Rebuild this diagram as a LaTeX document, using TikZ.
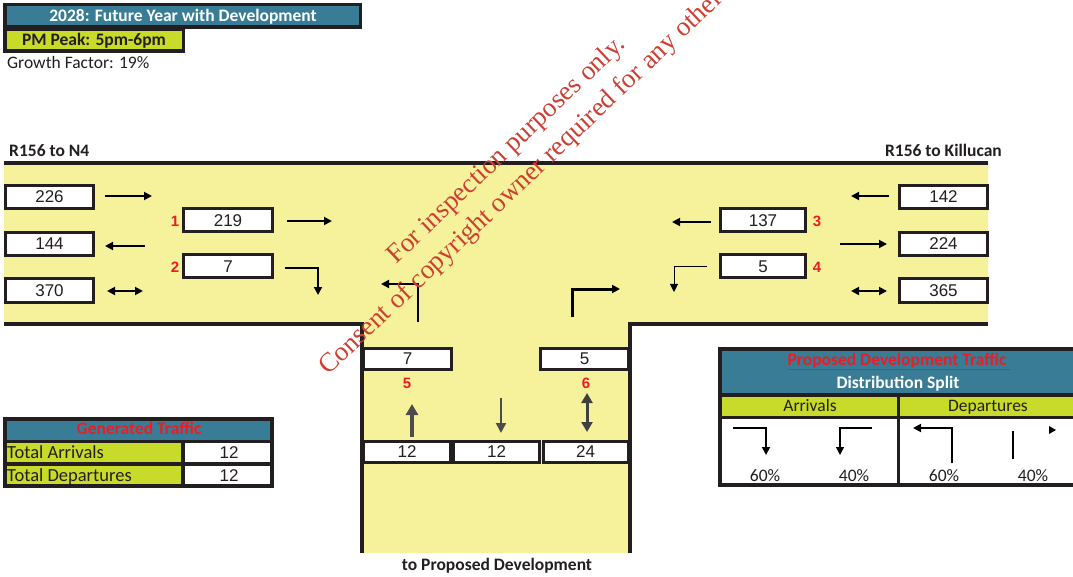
\documentclass[tikz,border=0pt]{standalone}
\usepackage{fontspec}
\setmainfont{Carlito}
\newfontfamily\arialf{Liberation Sans}
\newfontfamily\wmfont{Liberation Serif}
\usetikzlibrary{arrows.meta}
\definecolor{teal1}{RGB}{56,124,149}
\definecolor{lime1}{RGB}{200,218,42}
\definecolor{road}{RGB}{246,242,155}
\definecolor{red1}{RGB}{237,28,36}
\definecolor{ink}{RGB}{35,31,32}
\definecolor{wmred}{RGB}{204,64,52}
\begin{document}
\begin{tikzpicture}[x=1pt,y=-1pt,
  numbox/.style={draw=ink,line width=3pt,fill=white,minimum width=88pt,minimum height=23pt,inner sep=0pt,font=\arialf\fontsize{17}{17}\selectfont,text=ink},
  lbl/.style={text=red1,font=\arialf\bfseries\fontsize{15}{15}\selectfont,inner sep=0pt},
  lane/.style={line width=1.8pt,draw=black,-{Triangle[length=8pt,width=8pt]}},
  lanedbl/.style={line width=1.8pt,draw=black,{Triangle[length=8pt,width=8pt]}-{Triangle[length=8pt,width=8pt]}},
  roadline/.style={draw=ink,line width=3.5pt},
  tbl/.style={draw=ink,line width=3.5pt},
  txt/.style={inner sep=0pt,text=ink,text height=0.7em,text depth=0.04em},
  hdr/.style={inner sep=0pt,text height=0.7em,text depth=0.04em,font=\bfseries\fontsize{17.5}{17.5}\selectfont},
  wm/.style={inner sep=0pt,text=wmred,font=\wmfont\fontsize{27}{27}\selectfont}
]
\useasboundingbox (0,0) rectangle (1073,577);

% title boxes
\draw[tbl,fill=lime1] (4.75,29) rectangle (183.25,51.25);
\draw[tbl,fill=teal1] (4.75,4.75) rectangle (360.25,27.25);
\node[hdr,text=white] (title) at (183,18.5) {2028: Future Year with Development};
\node[hdr,text=ink] (peak) at (94,42.5) {PM Peak: 5pm-6pm};
\node[txt,anchor=west,font=\fontsize{17.5}{17.5}\selectfont] (growth) at (7,65) {Growth Factor: 19\%};

% road
\fill[road] (4,163) -- (988,163) -- (988,324) -- (630,324) -- (630,553) -- (362,553) -- (362,324) -- (4,324) -- cycle;
\draw[roadline] (4,163) -- (988,163);
\draw[roadline] (4,324) -- (362,324) -- (362,553);
\draw[roadline] (988,324) -- (630,324) -- (630,553);

\node[hdr,text=ink,anchor=west] (rn4) at (9,153) {R156 to N4};
\node[hdr,text=ink,anchor=east] (rkil) at (1002,153) {R156 to Killucan};
\node[hdr,text=ink] (rdev) at (497,567.5) {to Proposed Development};

% left boxes
\node[numbox,minimum width=88pt] (l1) at (49.5,197) {226};
\node[numbox] (l2) at (49.5,244) {144};
\node[numbox] (l3) at (49.5,290.5) {370};
\node[numbox,minimum width=89pt] (m1) at (228,220.5) {219};
\node[numbox,minimum width=89pt] (m2) at (228,266.5) {7};
\node[lbl] (n1) at (175,221) {1};
\node[lbl] (n2) at (175,267) {2};

% right boxes
\node[numbox] (r1) at (943.5,197) {142};
\node[numbox] (r2) at (943.5,244) {224};
\node[numbox] (r3) at (943.5,290.5) {365};
\node[numbox,minimum width=85pt] (m3) at (763,220.5) {137};
\node[numbox,minimum width=85pt] (m4) at (763,266.5) {5};
\node[lbl] (n3) at (817,221) {3};
\node[lbl] (n4) at (817,267) {4};

% stem boxes
\node[numbox,minimum width=88pt,minimum height=21pt] (s1) at (407.5,359) {7};
\node[numbox,minimum width=88pt,minimum height=21pt] (s2) at (584.5,359) {5};
\node[lbl] (n5) at (407,383) {5};
\node[lbl] (n6) at (586,383) {6};
\node[numbox,minimum width=87pt,minimum height=21pt] (b1) at (407,452) {12};
\node[numbox,minimum width=86pt,minimum height=21pt] (b2) at (496.5,452) {12};
\node[numbox,minimum width=85pt,minimum height=21pt] (b3) at (585.5,452) {24};

% lane arrows left
\draw[lane] (105,196) -- (152,196);
\draw[lane] (145,246) -- (105,246);
\draw[lanedbl] (107,291) -- (143,291);
\draw[lane] (287,221) -- (332,221);
\draw[lane] (285,268) -| (318,295);
% lane arrows right
\draw[lane] (889,196) -- (851,196);
\draw[lane] (840,244) -- (887,244);
\draw[lanedbl] (851,291) -- (887,291);
\draw[lane] (711,222) -- (672,222);
\draw[lane,line width=1pt] (707,267) -| (674,292);
% centre turning arrows
\draw[lane,line width=2.5pt] (418,322) |- (381,284);
\draw[lane,line width=3pt] (572,317) |- (620,289);
% stem arrows
\draw[line width=3.5pt,draw=black!70,-{Triangle[length=11pt,width=12pt]}] (412,437) -- (412,404);
\draw[line width=2pt,draw=black!70,-{Triangle[length=10pt,width=10pt]}] (501,398) -- (501,433);
\draw[line width=3pt,draw=black!75,{Triangle[length=10pt,width=11pt]}-{Triangle[length=10pt,width=11pt]}] (587,393) -- (587,432);

% generated traffic table
\fill[teal1] (5,419) rectangle (272,441);
\fill[lime1] (5,441) rectangle (183,486);
\fill[white] (183,441) rectangle (272,486);
\draw[tbl] (5,419) rectangle (272,486);
\draw[tbl] (5,441.5) -- (272,441.5);
\draw[tbl] (5,464) -- (272,464);
\draw[tbl] (183,441.5) -- (183,486);
\node[hdr,text=red1] (gt) at (139,431) {Generated Traffic};
\node[txt,anchor=west,font=\fontsize{18.5}{18.5}\selectfont] (ta) at (7,455.5) {Total Arrivals};
\node[txt,anchor=west,font=\fontsize{18.5}{18.5}\selectfont] (td) at (7,478.5) {Total Departures};
\node[txt,font=\arialf\fontsize{17}{17}\selectfont] (tav) at (229,455) {12};
\node[txt,font=\arialf\fontsize{17}{17}\selectfont] (tdv) at (229,478) {12};

% distribution table
\fill[teal1] (720,349) rectangle (1075,395);
\fill[lime1] (720,395) rectangle (1075,417.5);
\fill[white] (720,417.5) rectangle (1075,485);
\draw[tbl] (720,349) rectangle (1085,485);
\draw[tbl] (720,395) -- (1085,395);
\draw[tbl] (720,417.5) -- (1085,417.5);
\draw[tbl] (898.5,395) -- (898.5,485);
\node[hdr,text=red1] (pdt) at (899,362) {\underline{Proposed Development Traffic~}};
\node[hdr,text=white] (ds) at (898,385) {Distribution Split};
\node[txt,font=\fontsize{17.5}{17.5}\selectfont] (arr) at (810,408.5) {Arrivals};
\node[txt,font=\fontsize{17.5}{17.5}\selectfont] (dep) at (988,408.5) {Departures};
\node[txt,font=\fontsize{17.5}{17.5}\selectfont] (p1) at (765,478.5) {60\%};
\node[txt,font=\fontsize{17.5}{17.5}\selectfont] (p2) at (854,478.5) {40\%};
\node[txt,font=\fontsize{17.5}{17.5}\selectfont] (p3) at (944,478.5) {60\%};
\node[txt,font=\fontsize{17.5}{17.5}\selectfont] (p4) at (1033,478.5) {40\%};
\draw[lane] (733,428) -| (766,455);
\draw[lane,line width=1.2pt] (872,428) -| (840,455);
\draw[lane] (952,463) |- (913,428);
\draw[line width=1.5pt] (1013,431) -- (1013,459);
\fill[black] (1049,426) -- (1056,430) -- (1049,434) -- cycle;

% watermark
\begin{scope}
\clip (0,0) rectangle (1073,577);
\node[wm,anchor=base west,rotate=43.5] (wm1) at (396,265) {For inspection purposes only.};
\node[wm,anchor=base west,rotate=43.5] (wm2) at (328,376) {Consent of copyright owner required for any other use.};
\end{scope}
\end{tikzpicture}
\end{document}
